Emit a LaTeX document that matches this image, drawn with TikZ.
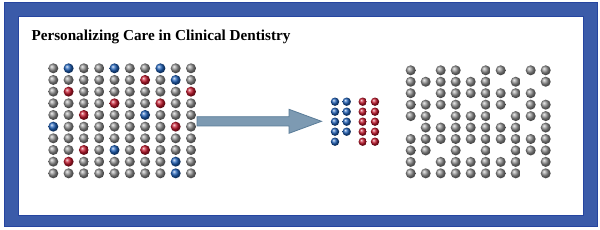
\documentclass[tikz,border=0pt]{standalone}
\usepackage{fontspec}
\setmainfont{Liberation Serif}
\usepackage{tikz}
\usetikzlibrary{calc}
\definecolor{Frame}{HTML}{3B5BA9}
\definecolor{FrameEdge}{HTML}{2645A0}
\definecolor{Steel}{HTML}{7D9AB2}
\definecolor{SteelEdge}{HTML}{5A7C98}
\definecolor{Pewter}{HTML}{909090}
\definecolor{Cobalt}{HTML}{1E60B8}
\definecolor{Crimson}{HTML}{C3172C}
\colorlet{dotg}{Pewter}
\colorlet{dotb}{Cobalt}
\colorlet{dotr}{Crimson}
\tikzset{
    every node/.style={inner sep=0pt, outer sep=0pt},
    dot/.style={
        circle, shade, minimum size=10pt,
        ball color=dot#1
    },
    smalldot/.style={
        dot=#1, minimum size=8.4pt
    },
    bigarrow/.style={
        fill=Steel, draw=SteelEdge, line width=0.8pt
    },
}

\begin{document}
\begin{tikzpicture}[x=1pt, y=-1pt]
    \useasboundingbox (0,0) rectangle (600,230);

    % Frame
    \fill[Frame, draw=FrameEdge, line width=0.8pt] (4,2) rectangle (597,226);
    \fill[white, draw=FrameEdge, line width=0.8pt] (18,16) rectangle (583,215);

    % Title
    \node[anchor=base west, font=\fontsize{15.2}{18}\selectfont\bfseries] (title) at (31.5,40.5) {Personalizing Care in Clinical Dentistry};

    % Mixed population
    \foreach \row [count=\r] in {
        {g,b,g,g,b,g,g,b,g,g},
        {g,g,g,g,g,g,r,g,b,g},
        {g,r,g,g,g,g,g,g,g,r},
        {g,g,g,g,r,g,g,r,g,g},
        {g,g,r,g,g,g,b,g,g,g},
        {b,g,g,g,g,g,g,g,r,g},
        {g,g,g,g,g,g,g,g,g,g},
        {g,g,r,g,b,g,r,g,g,g},
        {g,r,g,g,g,g,g,g,b,g},
        {g,g,g,g,g,g,g,g,b,g}}
        \foreach \k [count=\c] in \row
            \node[dot=\k] (mix-\r-\c) at ({53.3+15.3*(\c-1)}, {68.3+11.67*(\r-1)}) {};

    % Selected groups
    \foreach \r in {1,...,5} {
        \node[smalldot=b] (blue-\r-1) at (335, {101.7+10*(\r-1)}) {};
        \node[smalldot=r] (red-\r-1) at (362.7, {101.7+10*(\r-1)}) {};
        \node[smalldot=r] (red-\r-2) at (375, {101.7+10*(\r-1)}) {};
    }
    \foreach \r in {1,...,4}
        \node[smalldot=b] (blue-\r-2) at (346.7, {101.7+10*(\r-1)}) {};

    % Remaining population
    \foreach \cols [count=\r] in {
        {1,3,4,6,7,9,10},
        {1,2,3,4,5,6,8,10},
        {1,3,4,5,6,7,8,9},
        {1,2,3,4,6,7,9,10},
        {1,2,4,5,6,8,9,10},
        {2,3,4,5,6,7,8,10},
        {1,2,3,4,5,6,7,8,9,10},
        {1,2,4,6,8,9,10},
        {1,3,4,5,6,7,8,10},
        {1,2,3,4,5,6,7,8,10}}
        \foreach \c in \cols
            \node[dot=g] (rest-\r-\c) at ({410.7+15*(\c-1)}, {70.3+11.45*(\r-1)}) {};

    % Arrow
    \coordinate (tail) at (197,121.3);
    \coordinate (tip) at (321.5,121.3);
    \draw[bigarrow] ($(tail)+(0,-4.6)$) -- ($(tip)+(-32.5,-4.6)$) -- ($(tip)+(-32.5,-12)$)
        -- (tip) -- ($(tip)+(-32.5,12)$) -- ($(tip)+(-32.5,4.6)$) -- ($(tail)+(0,4.6)$) -- cycle;
\end{tikzpicture}
\end{document}
